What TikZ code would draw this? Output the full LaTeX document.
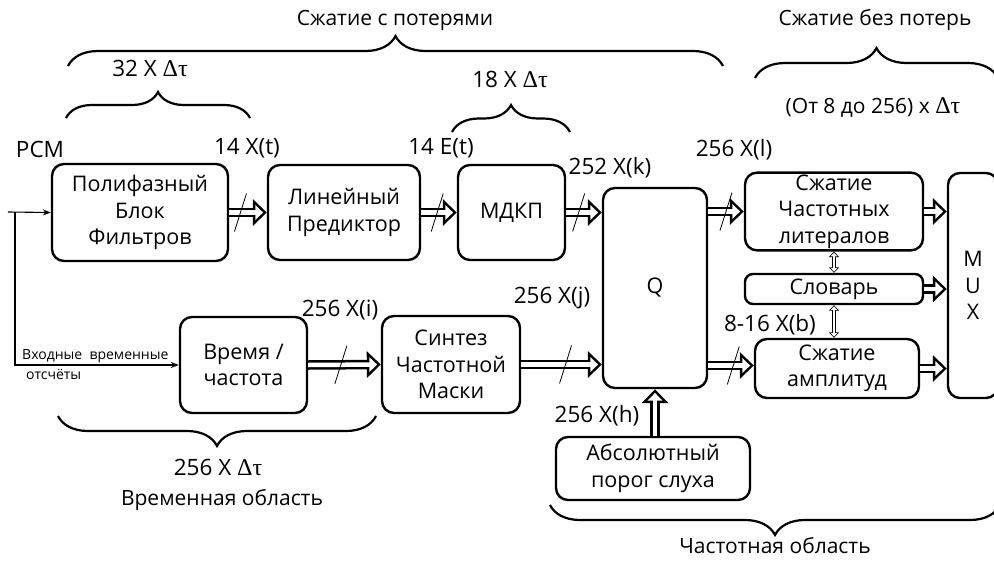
\documentclass[tikz,border=0pt]{standalone}
\usepackage{fontspec}
\setmainfont{Open Sans}
\newfontfamily\grkfont{Liberation Serif}
\usetikzlibrary{arrows.meta,positioning,calc,decorations.pathreplacing}
\newcommand{\dtau}{{\grkfont\fontsize{24}{26}\selectfont Δτ}}
\tikzset{
  cmpbox/.style={draw,line width=2.4pt,rounded corners=12pt,fill=white,align=center,inner sep=2pt,font=\fontsize{21.5}{26.5}\selectfont},
  cmpflow/.style={draw=white,line width=4.5pt,-{Triangle[length=7.8pt,width=14.5pt]},shorten >=3.7pt,
    preaction={draw=black,line width=9.5pt,-{Triangle[length=14pt,width=26pt]},shorten >=0pt}},
  cmpthin/.style={draw=white,line width=2.4pt,{Triangle[length=3.5pt,width=6.4pt]}-{Triangle[length=3.5pt,width=6.4pt]},shorten <=1.2pt,shorten >=1.2pt,
    preaction={draw=black,line width=4pt,{Triangle[length=5.5pt,width=10pt]}-{Triangle[length=5.5pt,width=10pt]},shorten <=0pt,shorten >=0pt}},
  cmpin/.style={line width=1.1pt,-{Stealth[length=8pt,width=6pt]}},
  cmpcut/.style={line width=0.8pt},
  cmplabel/.style={font=\fontsize{22.5}{26}\selectfont,inner sep=0pt},
  cmphead/.style={font=\fontsize{21}{26}\selectfont,inner sep=0pt},
  cmpsmall/.style={font=\fontsize{14}{17}\selectfont,inner sep=0pt},
  cmpbrace/.style={decorate,decoration={brace,amplitude=#1},line width=2.2pt},
  cmpbrace/.default=30,
}
\begin{document}
\begin{tikzpicture}[x=1pt,y=-1pt]
\useasboundingbox (0,0) rectangle (994,560);
\clip (0,0) rectangle (994,560);
% upper chain
\node[cmpbox,minimum width=176,minimum height=97] (pfb) at (140,212.5) {Полифазный\\Блок\\Фильтров};
\node[cmpbox,minimum width=152,minimum height=95] (lp) at (344,212.5) {Линейный\\Предиктор};
\node[cmpbox,minimum width=107,minimum height=95] (mdct) at (511.5,212.5) {МДКП};
\node[cmpbox,minimum width=104,minimum height=200] (q) at (655,288) {Q};
% lossless part
\node[cmpbox,minimum width=178,minimum height=77] (lit) at (834,211.5) {Сжатие\\Частотных\\литералов};
\node[cmpbox,minimum width=178,minimum height=30,rounded corners=8pt] (dict) at (834,289) {Словарь};
\node[cmpbox,minimum width=164,minimum height=59] (amp) at (837,368.5) {Сжатие\\амплитуд};
\node[cmpbox,minimum width=50,minimum height=225] (mux) at (973,285.5) {M\\U\\X};
% lower chain
\node[cmpbox,minimum width=127,minimum height=96] (tf) at (243.5,365) {Время /\\частота};
\node[cmpbox,minimum width=138,minimum height=97] (mask) at (451,364.5) {Синтез\\Частотной\\Маски};
\node[cmpbox,minimum width=194,minimum height=63] (ath) at (653,468.5) {Абсолютный\\порог слуха};

% signal labels
\node[cmplabel] (pcm) at (40,149) {PCM};
\node[cmplabel] (xt) at (247,148) {14 X(t)};
\node[cmplabel] (et) at (441,148) {14 E(t)};
\node[cmplabel] (xk) at (610,168) {252 X(k)};
\node[cmplabel] (xl) at (734,150) {256 X(l)};
\node[cmplabel] (xi) at (340,310) {256 X(i)};
\node[cmplabel] (xj) at (552,298) {256 X(j)};
\node[cmplabel] (xb) at (770,325) {8-16 X(b)};
\node[cmplabel] (xh) at (597,416) {256 X(h)};
\node[cmpsmall,anchor=west] (inA) at (22,356) {Входные\ \ временные};
\node[cmpsmall,anchor=west] (inB) at (26,374) {отсчёты};

% brace labels
\node[cmphead] (lossy) at (395,20) {Сжатие с потерями};
\node[cmphead] (lossless) at (875,20) {Сжатие без потерь};
\node[cmplabel] (d32) at (150,68) {32 X \dtau};
\node[cmplabel] (d18) at (510,79) {18 X \dtau};
\node[cmphead] (dvar) at (873,108) {(От 8 до 256) x \dtau};
\node[cmplabel] (d256) at (218,467) {256 X \dtau};
\node[cmphead] (tdom) at (222,500) {Временная область};
\node[cmphead] (fdom) at (775,546) {Частотная область};

% braces
\coordinate (lyA) at (68,66);   \coordinate (lyB) at (723,66);
\coordinate (b32A) at (66,118); \coordinate (b32B) at (250,118);
\coordinate (b18A) at (452,132); \coordinate (b18B) at (570,132);
\coordinate (llA) at (755,78);  \coordinate (llB) at (998,78);
\coordinate (tdA) at (376,416); \coordinate (tdB) at (58,416);
\coordinate (fdA) at (1000,505); \coordinate (fdB) at (550,505);
\draw[cmpbrace] (lyA) -- (lyB);
\draw[cmpbrace=26] (b32A) -- (b32B);
\draw[cmpbrace=27] (b18A) -- (b18B);
\draw[cmpbrace] (llA) -- (llB);
\draw[cmpbrace] (tdA) -- (tdB);
\draw[cmpbrace] (fdA) -- (fdB);

% input samples
\coordinate (src) at (8,212);
\coordinate (split) at (15,212);
\draw[cmpin] (src) -- (pfb.west);
\draw[cmpin] (split) |- (tf.west);

% wide data paths
\draw[cmpflow] (pfb.east) -- (lp.west);
\draw[cmpflow] (lp.east) -- (mdct.west);
\draw[cmpflow] (mdct.east) -- (mdct.east -| q.west);
\draw[cmpflow] (q.east |- lit.west) -- (lit.west);
\draw[cmpflow] (tf.east) -- (mask.west);
\draw[cmpflow] (mask.east) -- (mask.east -| q.west);
\draw[cmpflow] ([yshift=3pt]q.east |- amp.west) -- ([yshift=3pt]amp.west);
\draw[cmpflow] (lit.east) -- (lit.east -| mux.west);
\draw[cmpflow] (dict.east) -- (dict.east -| mux.west);
\draw[cmpflow] (amp.east) -- (amp.east -| mux.west);
\draw[cmpflow] (ath.north -| q.south) -- (q.south);
\draw[cmpthin] (lit.south) -- (dict.north);
\draw[cmpthin] (dict.south) -- (dict.south |- amp.north);

% bus width marks
\draw[cmpcut] ($(pfb.east)!.3!(lp.west)$) +(-6,19) -- +(6,-19);
\draw[cmpcut] ($(lp.east)!.45!(mdct.west)$) +(-6,19) -- +(6,-19);
\draw[cmpcut] ($(mdct.east)!.35!(mdct.east -| q.west)$) +(-6,19) -- +(6,-19);
\draw[cmpcut] ($(q.east |- lit.west)!.5!(lit.west)$) +(-6,19) -- +(6,-19);
\draw[cmpcut] ($(tf.east)!.45!(mask.west)$) +(-6,19) -- +(6,-19);
\draw[cmpcut] ($(mask.east)!.55!(mask.east -| q.west)$) +(-6,19) -- +(6,-19);
\draw[cmpcut] ([yshift=3pt]$(q.east |- amp.west)!.55!(amp.west)$) +(-6,19) -- +(6,-19);
\end{tikzpicture}
\end{document}
